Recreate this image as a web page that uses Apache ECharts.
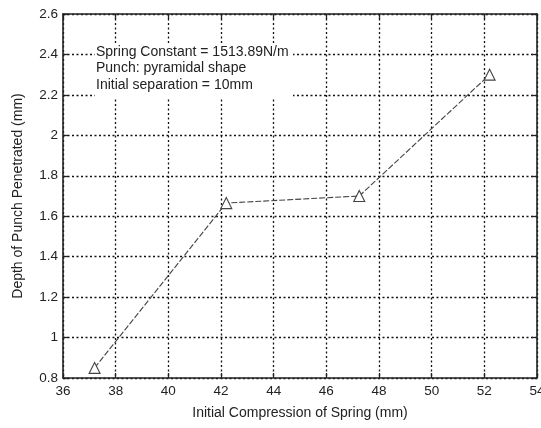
<!DOCTYPE html>
<html>
<head>
<meta charset="utf-8">
<script src="https://cdn.jsdelivr.net/npm/echarts@6/dist/echarts.min.js"></script>
<style>
  html, body { margin: 0; padding: 0; background: #fff; }
  #chart { width: 541px; height: 428px; }
</style>
</head>
<body>
<div id="chart"></div>
<script>
// Initial spring compression (mm) vs. punch penetration depth (mm)
const compression = [37.2, 42.2, 47.25, 52.2];
const depth = [0.85, 1.665, 1.70, 2.30];
const xTicks = [36, 38, 40, 42, 44, 46, 48, 50, 52, 54];
const yTicks = [0.8, 1, 1.2, 1.4, 1.6, 1.8, 2, 2.2, 2.4, 2.6];
const noteLines = [
  'Spring Constant = 1513.89N/m',
  'Punch: pyramidal shape',
  'Initial separation = 10mm'
];

const font = '"Liberation Sans", Arial, sans-serif';
const ink = '#222';

const chart = echarts.init(document.getElementById('chart'));

const gridLine = { show: true, lineStyle: { color: '#111', type: [2, 2.5], width: 1.3 } };
const axisLine = { show: true, onZero: false, lineStyle: { color: ink, width: 1.6 } };
const tickIn = { show: true, inside: true, length: 5, lineStyle: { color: ink, width: 1.3 } };

chart.setOption({
  animation: false,
  backgroundColor: '#fff',
  grid: { left: 63, right: 4, top: 14, bottom: 50, containLabel: false, outerBoundsMode: 'none' },
  xAxis: [
    {
      type: 'value', min: xTicks[0], max: xTicks[xTicks.length - 1], interval: 2,
      axisLine, axisTick: tickIn, splitLine: gridLine,
      axisLabel: { color: ink, fontFamily: font, fontSize: 13.5, margin: 6 },
      name: 'Initial Compression of Spring (mm)', nameLocation: 'middle', nameGap: 28,
      nameTextStyle: { color: ink, fontFamily: font, fontSize: 14 }
    },
    {
      type: 'value', position: 'top', min: xTicks[0], max: xTicks[xTicks.length - 1], interval: 2,
      axisLine, axisTick: tickIn, splitLine: { show: false }, axisLabel: { show: false }
    }
  ],
  yAxis: [
    {
      type: 'value', min: yTicks[0], max: yTicks[yTicks.length - 1], interval: 0.2,
      axisLine, axisTick: tickIn, splitLine: gridLine,
      axisLabel: { color: ink, fontFamily: font, fontSize: 13.5, margin: 5,
        formatter: v => String(Math.round(v * 10) / 10) },
      name: 'Depth of Punch Penetrated (mm)', nameLocation: 'middle', nameGap: 38,
      nameTextStyle: { color: ink, fontFamily: font, fontSize: 14 }
    },
    {
      type: 'value', position: 'right', min: yTicks[0], max: yTicks[yTicks.length - 1], interval: 0.2,
      axisLine, axisTick: tickIn, splitLine: { show: false }, axisLabel: { show: false }
    }
  ],
  series: [{
    type: 'line',
    data: compression.map((x, i) => [x, depth[i]]),
    symbol: 'triangle',
    symbolSize: 11,
    itemStyle: { color: '#fff', borderColor: '#444', borderWidth: 1.1 },
    lineStyle: { color: '#444', width: 1.1, type: [6, 2] },
    z: 5
  }],
  graphic: [
    {
      type: 'rect', left: 95, top: 43, z: 100,
      shape: { x: 0, y: 0, width: 198, height: 54 }, style: { fill: '#fff' }
    },
    ...noteLines.map((t, i) => ({
      type: 'text', left: 96, top: 45 + i * 16.5, z: 101,
      style: { text: t, fill: ink, font: '14px ' + font }
    }))
  ]
});
</script>
</body>
</html>
